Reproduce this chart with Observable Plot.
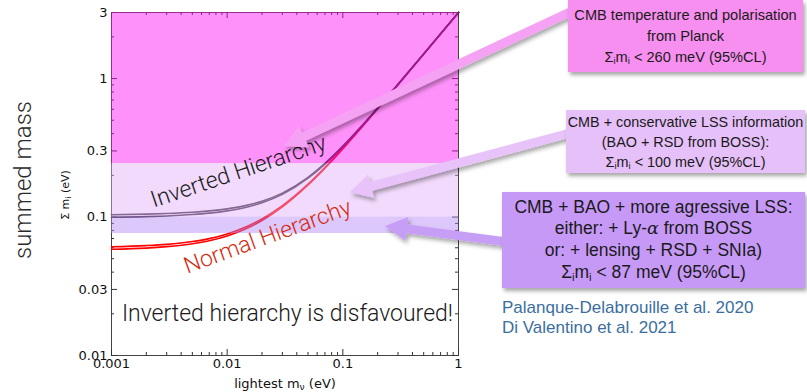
<!DOCTYPE html>
<html><head><meta charset="utf-8">
<script src="https://cdn.jsdelivr.net/npm/d3@7"></script>
<script src="https://cdn.jsdelivr.net/npm/@observablehq/plot@0.6"></script>
<style>
body{margin:0;background:#fff;}
#wrap{position:relative;width:807px;height:392px;overflow:hidden;font-family:"Liberation Sans",Arial,sans-serif;}
#wrap > svg{position:absolute;left:0;top:0;}
.box{position:absolute;text-align:center;color:#1a1a1a;box-shadow:2px 3px 4px rgba(0,0,0,0.35);display:flex;align-items:center;justify-content:center;white-space:nowrap;}
.box sub{font-size:65%;line-height:0;vertical-align:-0.25em;}
.lbl{position:absolute;white-space:nowrap;color:#111;}
</style></head><body><div id="wrap"></div>
<script>
// lightest neutrino mass (eV) and summed mass (eV): lower / upper edge of each double line
const mLightest   = [0.001, 0.002, 0.003, 0.005, 0.007, 0.01, 0.015, 0.02, 0.03, 0.05, 0.07, 0.1, 0.15, 0.2, 0.3, 0.5, 0.7, 1.0];
const normalLow   = [0.0585, 0.0596, 0.0611, 0.0641, 0.0674, 0.0729, 0.0832, 0.0944, 0.1183, 0.1703, 0.2255, 0.3113, 0.4575, 0.6057, 0.9040, 1.503, 2.102, 3.001];
const normalHigh  = [0.0610, 0.0622, 0.0635, 0.0665, 0.0698, 0.0755, 0.0858, 0.0968, 0.1207, 0.1727, 0.2277, 0.3131, 0.4593, 0.6069, 0.9046, 1.503, 2.102, 3.001];
const invertedLow = [0.0997, 0.1006, 0.1018, 0.1042, 0.1067, 0.1108, 0.1183, 0.1267, 0.1458, 0.1907, 0.2413, 0.3229, 0.4656, 0.6119, 0.9080, 1.505, 2.104, 3.003];
const invertedHigh= [0.1039, 0.1050, 0.1060, 0.1082, 0.1107, 0.1146, 0.1219, 0.1301, 0.1488, 0.1933, 0.2437, 0.3249, 0.4674, 0.6131, 0.9088, 1.505, 2.104, 3.003];

// excluded bands (eV)
const bandNames = ["Planck", "CMB+LSS conservative", "CMB+BAO+aggressive LSS"];
const bandLow   = [0.243, 0.1, 0.076];
const bandHigh  = [3, 0.243, 0.1];

// axes
const xDomain = [0.001, 1];
const yDomain = [0.01, 3];
const xMajor = [0.001, 0.01, 0.1, 1];
const xLabels = ["0.001", "0.01", "0.1", "1"];
const yMajor = [0.01, 0.03, 0.1, 0.3, 1, 3];
const yLabels = ["0.01", "0.03", "0.1", "0.3", "1", "3"];

// annotations (data coordinates)
const annText = ["Inverted Hierarchy", "Normal Hierarchy", "Inverted hierarchy is disfavoured!"];
const annX = [0.01254, 0.02232, 0.0332];
const annY = [0.2132, 0.0723, 0.0201];
const annRotate = [-18.5, -20, 0];

const arrowX1 = [9.3, 9.3, 4.19];
const arrowY1 = [3.0, 0.401, 0.0623];
const arrowX2 = [0.0313, 0.116, 0.234];
const arrowY2 = [0.323, 0.150, 0.0854];

// ---------------------------------------------------------------
const bandFill = ["rgb(255,11,244)", "rgb(227,173,249)", "rgb(180,133,247)"];
const arrowFill = ["#f6a2f4", "#e8c3f9", "#c79ef6"];
const textFill = ["#1a1a1a", "#d22c12", "#1a1a1a"];

const curves = mLightest.map((m, i) => ({m, nl: normalLow[i], nh: normalHigh[i], il: invertedLow[i], ih: invertedHigh[i]}));
const bands = bandLow.map((lo, i) => ({name: bandNames[i], lo, hi: bandHigh[i], fill: bandFill[i]}));
const anns = annText.map((t, i) => ({t, x: annX[i], y: annY[i], r: annRotate[i], fill: textFill[i]}));
const arrows = arrowX1.map((x1, i) => ({x1, y1: arrowY1[i], x2: arrowX2[i], y2: arrowY2[i], fill: arrowFill[i]}));

const decadesX = [0.001, 0.01, 0.1];
const xMinor = decadesX.flatMap(d => d3.range(2, 10).map(k => +(k * d).toPrecision(3)));
const decadesY = [0.01, 0.1, 1];
const yMinor = decadesY.flatMap(d => d3.range(2, 10).map(k => +(k * d).toPrecision(3))).filter(v => v <= 3 && !yMajor.includes(v));

function arrowMark(...args) {
  const scales = args.find(a => a && typeof a.x === "function" && typeof a.y === "function");
  const g = d3.create("svg:g");
  const f = g.append("defs").append("filter").attr("id", "ashadow")
    .attr("x", "-30%").attr("y", "-30%").attr("width", "160%").attr("height", "160%");
  f.append("feDropShadow").attr("dx", 2).attr("dy", 3).attr("stdDeviation", 2)
    .attr("flood-color", "#000").attr("flood-opacity", 0.35);
  for (const a of arrows) {
    const X1 = scales.x(a.x1), Y1 = scales.y(a.y1), X2 = scales.x(a.x2), Y2 = scales.y(a.y2);
    const dx = X2 - X1, dy = Y2 - Y1, L = Math.hypot(dx, dy);
    const ux = dx / L, uy = dy / L, nx = -uy, ny = ux;
    const hw = 4.5, hl = 22, hh = 12;
    const bx = X2 - ux * hl, by = Y2 - uy * hl;
    const pts = [
      [X1 + nx * hw, Y1 + ny * hw], [bx + nx * hw, by + ny * hw], [bx + nx * hh, by + ny * hh],
      [X2, Y2], [bx - nx * hh, by - ny * hh], [bx - nx * hw, by - ny * hw], [X1 - nx * hw, Y1 - ny * hw]
    ];
    g.append("polygon").attr("points", pts.map(p => p.join(",")).join(" "))
      .attr("fill", a.fill).attr("filter", "url(#ashadow)");
  }
  return g.node();
}

const W = 807, H = 392, mL = 111, mR = 349, mT = 12, mB = 37;
const plotW = W - mL - mR, plotH = H - mT - mB;
const tickStroke = "#333";
const tickOpts = {stroke: tickStroke, strokeWidth: 1};
const chart = Plot.plot({
  width: W, height: H,
  marginLeft: mL, marginRight: mR, marginTop: mT, marginBottom: mB,
  x: {type: "log", domain: xDomain},
  y: {type: "log", domain: yDomain},
  style: {fontFamily: "DejaVu Sans", fontSize: "13px", color: "#111", background: "transparent", overflow: "visible"},
  marks: [
    Plot.frame({stroke: "#444", strokeWidth: 1}),
    // inward ticks on all four sides
    Plot.tickX(xMajor, {x: d => d, insetTop: plotH - 6, ...tickOpts}),
    Plot.tickX(xMajor, {x: d => d, insetBottom: plotH - 6, ...tickOpts}),
    Plot.tickX(xMinor, {x: d => d, insetTop: plotH - 3, ...tickOpts}),
    Plot.tickX(xMinor, {x: d => d, insetBottom: plotH - 3, ...tickOpts}),
    Plot.tickY(yMajor, {y: d => d, insetRight: plotW - 6, ...tickOpts}),
    Plot.tickY(yMajor, {y: d => d, insetLeft: plotW - 6, ...tickOpts}),
    Plot.tickY(yMinor, {y: d => d, insetRight: plotW - 3, ...tickOpts}),
    Plot.tickY(yMinor, {y: d => d, insetLeft: plotW - 3, ...tickOpts}),
    // tick labels
    Plot.axisX(xMajor, {anchor: "bottom", tickSize: 0, tickPadding: 3, tickFormat: d => xLabels[xMajor.indexOf(d)], label: null}),
    Plot.axisY(yMajor, {anchor: "left", tickSize: 0, tickPadding: 4, tickFormat: d => yLabels[yMajor.indexOf(d)], label: null}),
    // curves (double lines)
    Plot.line(curves, {x: "m", y: "nl", stroke: "#ff0000", strokeWidth: 1.6, curve: "monotone-x"}),
    Plot.line(curves, {x: "m", y: "nh", stroke: "#ff0000", strokeWidth: 1.6, curve: "monotone-x"}),
    Plot.line(curves, {x: "m", y: "il", stroke: "#3a3040", strokeWidth: 1.6, curve: "monotone-x"}),
    Plot.line(curves, {x: "m", y: "ih", stroke: "#3a3040", strokeWidth: 1.6, curve: "monotone-x"}),
    // excluded bands
    Plot.rect(bands, {x1: () => xDomain[0], x2: () => xDomain[1], y1: "lo", y2: "hi", fill: "fill", fillOpacity: 0.45}),
    // annotations
    Plot.text(anns, {x: "x", y: "y", text: "t", rotate: "r", fill: "fill", fontSize: 23, fontFamily: "Roboto", fontWeight: 300, textAnchor: "middle", lineAnchor: "middle"}),
    arrowMark
  ]
});
const wrap = document.getElementById("wrap");
wrap.appendChild(chart);

function addDiv(cls, style, html) {
  const d = document.createElement("div");
  d.className = cls;
  Object.assign(d.style, style);
  d.innerHTML = html;
  wrap.appendChild(d);
  return d;
}
// axis titles
addDiv("lbl", {left: "285px", top: "383px", transform: "translate(-50%,-50%)", fontFamily: "DejaVu Sans", fontSize: "13px"},
  "lightest m<sub style='font-size:70%;vertical-align:-0.3em;line-height:0'>ν</sub> (eV)");
addDiv("lbl", {left: "65px", top: "195px", transform: "translate(-50%,-50%) rotate(-90deg)", fontFamily: "DejaVu Sans", fontSize: "11px"},
  "Σ m<sub style='font-size:70%;vertical-align:-0.3em;line-height:0'>i</sub> (eV)");
addDiv("lbl", {left: "23px", top: "180px", transform: "translate(-50%,-50%) rotate(-90deg)", fontFamily: "Roboto", fontWeight: "300", fontSize: "24px", color: "#2a2a2a"},
  "summed mass");

// boxes
addDiv("box", {left: "568px", top: "0px", width: "235px", height: "72px", background: "#f78ff0", fontSize: "14.6px", lineHeight: "21px"},
  "<div>CMB temperature and polarisation<br>from Planck<br>Σ<sub>i</sub>m<sub>i</sub> &lt; 260 meV (95%CL)</div>");
addDiv("box", {left: "566px", top: "110px", width: "239px", height: "63px", background: "#e6c0f8", fontSize: "14.4px", lineHeight: "20px"},
  "<div>CMB + conservative LSS information<br>(BAO + RSD from BOSS):<br>Σ<sub>i</sub>m<sub>i</sub> &lt; 100 meV (95%CL)</div>");
addDiv("box", {left: "502px", top: "192px", width: "303px", height: "96px", background: "#c799f7", fontSize: "17.5px", lineHeight: "21.7px"},
  "<div>CMB + BAO + more agressive LSS:<br>either: + Ly-<i style='font-family:\"DejaVu Serif\"'>α</i> from BOSS<br>or: + lensing + RSD + SNIa)<br>Σ<sub>i</sub>m<sub>i</sub> &lt; 87 meV (95%CL)</div>");
addDiv("lbl", {left: "502px", top: "298px", fontSize: "17px", lineHeight: "19.5px", color: "#3b6ea0"},
  "Palanque-Delabrouille et al. 2020<br>Di Valentino et al. 2021");
</script></body></html>
